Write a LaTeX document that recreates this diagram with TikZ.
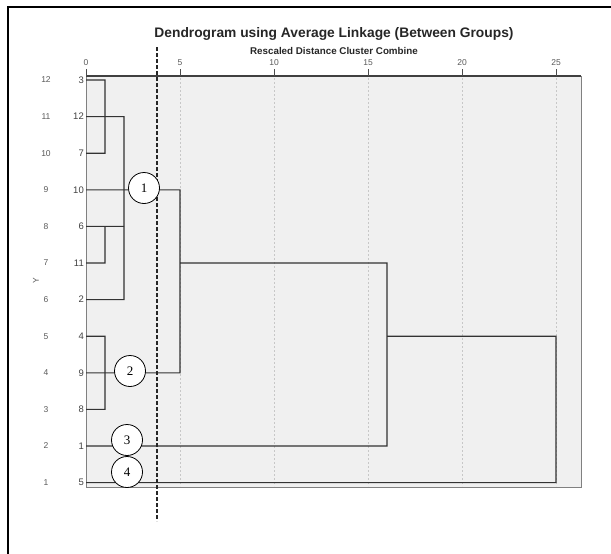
\documentclass[tikz,border=0pt]{standalone}
\usepackage{fontspec}
\setmainfont{Liberation Sans}
\newfontfamily\circfont{Liberation Serif}
\begin{document}
\begin{tikzpicture}[x=1pt,y=-1pt,
  tree/.style={draw=black!80,line width=1.1pt},
  grid/.style={draw=black!22,line width=0.8pt,dash pattern=on 2pt off 2pt},
  tick/.style={draw=black!70,line width=1pt},
  ticklab/.style={font=\fontsize{8.5}{9}\selectfont,text=black!65,inner sep=0pt},
  leaflab/.style={font=\fontsize{9.5}{10}\selectfont,text=black!75,anchor=east,inner sep=0pt},
  ylab/.style={font=\fontsize{8.5}{9}\selectfont,text=black!65,inner sep=0pt},
  marker/.style={circle,draw=black,line width=0.8pt,fill=white,minimum size=31pt,inner sep=0pt,font=\circfont\fontsize{13}{14}\selectfont}
]
\useasboundingbox (0,0) rectangle (611,554);
% outer frame
\draw[line width=2.6pt] (7,7) -- (611,7);
\draw[line width=2.6pt] (8,7) -- (8,554);
% plot box
\fill[black!6] (86,76) rectangle (581,487);
\draw[black!50,line width=1pt] (86,76) rectangle (581,487);
\foreach \x in {180,274,368,462,556} \draw[grid] (\x,78) -- (\x,486);
\draw[black!75,line width=1.3pt] (86,76) -- (581,76);
% ticks and labels
\foreach \v [count=\i from 0] in {0,5,10,15,20,25} {
  \draw[tick] (86+94*\i,69) -- (86+94*\i,76);
  \node[ticklab] at (86+94*\i,63) {\v};
}
% titles
\node[font=\bfseries\fontsize{13.8}{15}\selectfont,text=black!85] (title) at (334,34) {Dendrogram using Average Linkage (Between Groups)};
\node[font=\bfseries\fontsize{9.8}{11}\selectfont,text=black!85] (sub) at (334,51) {Rescaled Distance Cluster Combine};
% Y labels and leaf labels
\foreach \r/\lab [count=\k from 0] in {12/3,11/12,10/7,9/10,8/6,7/11,6/2,5/4,4/9,3/8,2/1,1/5} {
  \coordinate (L\lab) at (86,80+36.6*\k);
  \node[ylab] at (46,80+36.6*\k) {\r};
  \node[leaflab] at (84,80+36.6*\k) {\lab};
}
\node[ylab,rotate=90] (ytitle) at (36,281) {Y};
% join coordinates
\coordinate (j37a) at (105,80); \coordinate (j37b) at (105,153.2);
\coordinate (jA) at (124,116.6); \coordinate (jAb) at (124,299.6);
\coordinate (j611a) at (105,226.4); \coordinate (j611b) at (105,263);
\coordinate (j48a) at (105,336.2); \coordinate (j48b) at (105,409.4);
\coordinate (jBa) at (180,189.8); \coordinate (jBb) at (180,372.8);
\coordinate (jBm) at (180,263);
\coordinate (jCa) at (387,263); \coordinate (jCb) at (387,446);
\coordinate (jCm) at (387,336.2);
\coordinate (jDa) at (556,336.2); \coordinate (jDb) at (556,482.6);
% tree
\draw[tree] (L3) -- (j37a) -- (j37b) -- (L7);
\draw[tree] (L12) -- (jA) -- (jAb) -- (L2);
\draw[tree] (L6) -- (124,226.4);
\draw[tree] (L11) -- (j611b) -- (j611a);
\draw[tree] (L4) -- (j48a) -- (j48b) -- (L8);
\draw[tree] (L10) -- (jBa) -- (jBb) -- (L9);
\draw[tree] (jBm) -- (jCa) -- (jCb) -- (L1);
\draw[tree] (jCm) -- (jDa) -- (jDb) -- (L5);
% dashed cut line
\draw[black!85,line width=1.2pt,dash pattern=on 3.5pt off 2.5pt] (157,47) -- (157,521);
% markers
\node[marker] (c1) at (144,188) {1};
\node[marker] (c2) at (130,371) {2};
\node[marker] (c3) at (127,440) {3};
\node[marker] (c4) at (127,472) {4};
\end{tikzpicture}
\end{document}
